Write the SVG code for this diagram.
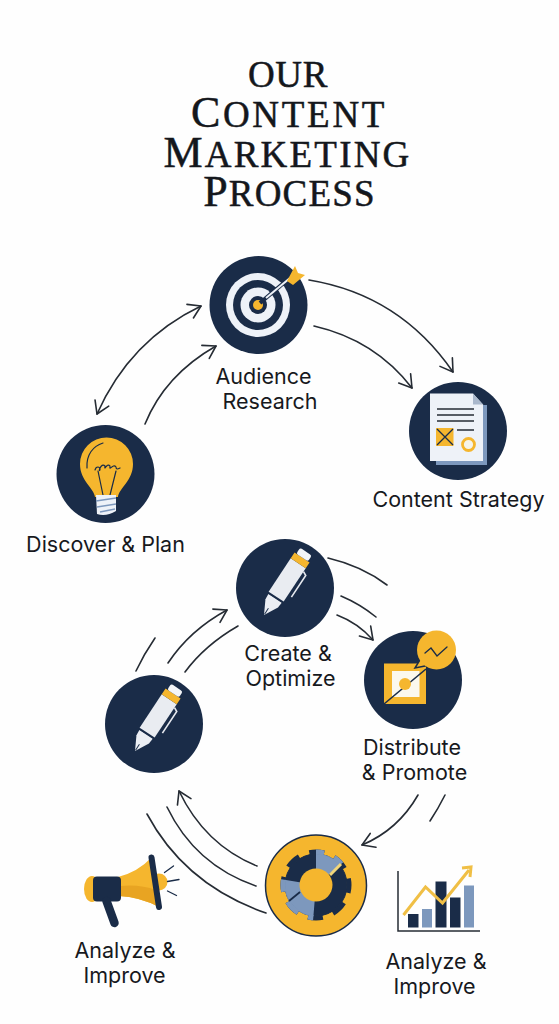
<svg xmlns="http://www.w3.org/2000/svg" width="559" height="1024" viewBox="0 0 559 1024">
<style>
.bg{fill:#1a2c48}.y{fill:#f5b62e}.w{fill:#eef2f8}.b{fill:#7d98bd}
.lbl{font-family:"Inter","Liberation Sans",sans-serif;font-size:21.5px;fill:#17191d;text-anchor:middle}
.ttl{font-family:"Liberation Serif",serif;font-size:37px;fill:#14171c;stroke:#14171c;stroke-width:.5;text-anchor:middle}
.cap{font-size:44px}
.c{fill:none;stroke:#262c34;stroke-width:1.6;stroke-linecap:round}
.a{marker-end:url(#arw)}
.ink{fill:none;stroke:#1a2c48;stroke-linecap:round}
</style>
<defs>
<marker id="arw" markerUnits="userSpaceOnUse" markerWidth="20" markerHeight="24" refX="15" refY="12" orient="auto-start-reverse"><path d="M3 4.500 L15 12 L3 19.500" fill="none" stroke="#262c34" stroke-width="1.600" stroke-linecap="round" stroke-linejoin="round"/></marker>
<g id="pen">
<path d="M0 0 L-7.500 -14 L-8 -20 L8 -20 L7.500 -14Z" fill="#eceff4"/>
<path d="M-9 -21 L9 -21" stroke="#1a2c48" stroke-width="1.500"/>
<rect x="-9" y="-62" width="18" height="40" fill="#e9ecf1"/>
<rect x="-9" y="-69" width="18" height="7" class="y"/>
<rect x="-7" y="-76" width="14" height="7" rx="2" fill="#f3f5f8"/>
<path d="M9 -58 L13 -56 L13 -30" fill="none" stroke="#e6e9ef" stroke-width="1.600"/>
<path d="M0 -1 L0 -8" stroke="#1a2c48" stroke-width="1"/>
</g>
<clipPath id="wedges"><path d="M316 885 L316 833 L364 833 L364 845Z M316 885 L256 875 L256 933 L312 933Z"/></clipPath>
</defs>
<rect width="559" height="1024" fill="#fefefe"/>
<g id="title">
<text class="ttl" x="288" y="86.500" letter-spacing=".7">OUR</text>
<text class="ttl" x="289" y="126.500" letter-spacing="2.700"><tspan class="cap">C</tspan>ONTENT</text>
<text class="ttl" x="287.500" y="166.500" letter-spacing="2.200"><tspan class="cap">M</tspan>ARKETING</text>
<text class="ttl" x="289.500" y="205.500" letter-spacing="1.200"><tspan class="cap">P</tspan>ROCESS</text>
</g>
<g id="connectors">
<path class="c a" d="M309 280 Q400 295 453 372"/>
<path class="c a" d="M314 326 Q375 340 412 388"/>
<path class="c a" d="M97 414 Q130 340 201 306" style="marker-start:url(#arw)"/>
<path class="c a" d="M145 424 Q165 375 216 346"/>
<path class="c a" d="M168 663 Q190 630 227 610"/>
<path class="c" d="M185 672 Q205 645 238 626"/>
<path class="c" d="M136 671 Q144 654 155 638"/>
<path class="c" d="M328 558 Q362 566 387 585"/>
<path class="c" d="M341 596 Q360 604 376 617"/>
<path class="c a" d="M337 615 Q358 623 373 640"/>
<path class="c a" d="M418 795 Q398 830 362 845"/>
<path class="c" d="M445 795 Q438 809 430 821"/>
<path class="c a" d="M257 866 Q205 845 179 791"/>
<path class="c" d="M256 886 Q195 865 167 807"/>
<path class="c" d="M147 814 Q185 885 266 913"/>
</g>
<g id="node-audience">
<circle class="bg" cx="258.500" cy="305" r="49"/>
<circle class="w" cx="258" cy="305" r="32"/>
<circle class="bg" cx="258" cy="305" r="25"/>
<circle class="w" cx="258" cy="305" r="17.500"/>
<circle class="bg" cx="258" cy="305" r="9"/>
<circle class="y" cx="258" cy="305" r="5"/>
<path d="M260 303 L292 276" stroke="#1a2c48" stroke-width="4"/>
<path d="M266 298 L290 278" stroke="#eef2f8" stroke-width="2"/>
<path d="M287 281 L295 266 L298 273 L305 275 L293 285Z" class="y"/>
<text class="lbl" x="263.500" y="384">Audience</text>
<text class="lbl" x="270" y="409">Research</text>
</g>
<g id="node-strategy">
<circle class="bg" cx="458" cy="431" r="49"/>
<rect class="b" x="436" y="405" width="51" height="60"/>
<path class="w" d="M430 393.500 L473 393.500 L483 404.500 L483 461 L430 461Z"/>
<path d="M473 393.500 L483 404.500 L473 404.500Z" fill="#aab8cc"/>
<path d="M437 409 H474 M437 415 H474 M437 421 H474 M457 430 H474" stroke="#262c34" stroke-width="1.300"/>
<rect class="y" x="436" y="428" width="17.500" height="18"/>
<path d="M437 429 L453 445 M453 429 L437 445" stroke="#1a2c48" stroke-width="1.300"/>
<circle cx="468.500" cy="444.500" r="6" fill="#f5f4ea" stroke="#f5b62e" stroke-width="2.800"/>
<text class="lbl" x="458.500" y="507">Content Strategy</text>
</g>
<g id="node-discover">
<circle class="bg" cx="105.500" cy="474" r="49"/>
<path class="y" d="M95 497 C94 488 80 481 80 464 A26.500 26.500 0 0 1 133 464 C133 481 119 488 118 497Z"/>
<path class="ink" stroke-width="1.200" d="M87 468 C86 455 93 446 103 443"/>
<path class="ink" stroke-width="1.200" d="M103 495 L98 471 M110 495 L116 471 M95 470 C96 466 100 466 100 470 C98 473 101 462 105 466 C104 472 107 462 110 466 C109 472 113 463 116 467 C116 470 118 469 120 468"/>
<path d="M96 495 H116 L116 511 Q106 517 97 514Z" fill="#eef2f8"/>
<path d="M96 501 L116 498 M97 507 L116 504 M100 512 L115 509" stroke="#7d98bd" stroke-width="1.300"/>
<text class="lbl" x="105.500" y="552">Discover &amp; Plan</text>
</g>
<g id="node-create">
<circle class="bg" cx="285" cy="588" r="49"/>
<use href="#pen" transform="translate(264 615) rotate(33.500)"/>
<text class="lbl" x="288" y="661">Create &amp;</text>
<text class="lbl" x="290.500" y="686">Optimize</text>
</g>
<g id="node-write">
<circle class="bg" cx="154" cy="724" r="49"/>
<use href="#pen" transform="translate(135 751) rotate(33.500)"/>
</g>
<g id="node-distribute">
<circle class="bg" cx="413" cy="680" r="49"/>
<rect class="y" x="384" y="663.500" width="42" height="40.500"/>
<rect x="392" y="671" width="27.500" height="26" fill="#fbf8ee"/>
<path d="M384 704 L426 669" stroke="#1a2c48" stroke-width="1.600"/>
<circle class="y" cx="405" cy="684" r="6"/>
<path d="M415 668 L421 658 L430 665Z" class="y" stroke="#1a2c48" stroke-width="1.500"/>
<circle class="y" cx="436.500" cy="650" r="19.500"/>
<path class="ink" stroke-width="1.300" d="M425 653 L431 648 L437 656 L447 647"/>
<text class="lbl" x="412" y="755">Distribute</text>
<text class="lbl" x="414.500" y="780">&amp; Promote</text>
</g>
<g id="node-analyze">
<circle class="y" cx="316" cy="885.500" r="50.500" stroke="#1a2c48" stroke-width="1.500"/>
<g fill="#1a2c48" stroke="#1a2c48">
<circle cx="316" cy="885" r="31"/>
<circle cx="316" cy="885" r="33" fill="none" stroke-width="5" stroke-dasharray="15 10.920" stroke-dashoffset="7"/>
</g>
<g clip-path="url(#wedges)" fill="#7d98bd" stroke="#7d98bd">
<circle cx="316" cy="885" r="31"/>
<circle cx="316" cy="885" r="33" fill="none" stroke-width="5" stroke-dasharray="15 10.920" stroke-dashoffset="7"/>
</g>
<path d="M330 875 L341 864" stroke="#f1d67a" stroke-width="3"/>
<path d="M289 901 L300 892" stroke="#1a2c48" stroke-width="1.800"/>
<circle class="y" cx="316" cy="885" r="16.500"/>
</g>
<g id="node-megaphone">
<ellipse class="y" cx="92" cy="889" rx="8" ry="13"/>
<circle class="y" cx="159" cy="882" r="8.500"/>
<path class="y" d="M118 877 Q138 872 152 857 L159 907 Q140 897 118 896Z"/>
<path d="M120 886 Q140 884 156 890 L159 907 Q140 897 120 896Z" fill="#e8a422"/>
<rect class="bg" x="93" y="876.500" width="28" height="25" rx="4"/>
<path d="M106.500 901 L114.500 923" stroke="#1a2c48" stroke-width="8.500" stroke-linecap="round"/>
<path d="M151.500 857.500 L159 907" stroke="#1a2c48" stroke-width="6" stroke-linecap="round"/>
<path class="ink" stroke-width="1.300" d="M164.500 872.500 L173.500 866 M167.500 881.500 L179 879.500 M167.500 891 L176.500 895.500"/>
<text class="lbl" x="125" y="958">Analyze &amp;</text>
<text class="lbl" x="124.500" y="983">Improve</text>
</g>
<g id="node-improve">
<path d="M398 871 V931 H480" fill="none" stroke="#262c34" stroke-width="1.500"/>
<rect class="bg" x="408" y="914" width="10.500" height="13.500"/>
<rect class="b" x="422" y="909" width="10" height="18.500"/>
<rect class="bg" x="435.500" y="881.500" width="11" height="46"/>
<rect class="bg" x="450" y="897.500" width="10.500" height="30"/>
<rect class="b" x="464" y="885.500" width="10" height="42"/>
<path d="M403.500 915 L425.500 887 L442.500 903 L469 870" fill="none" stroke="#f0bf45" stroke-width="3"/>
<path d="M462 868 L471 867 L470 877" fill="none" stroke="#f0bf45" stroke-width="3"/>
<text class="lbl" x="436" y="969">Analyze &amp;</text>
<text class="lbl" x="434.500" y="994">Improve</text>
</g>
</svg>
